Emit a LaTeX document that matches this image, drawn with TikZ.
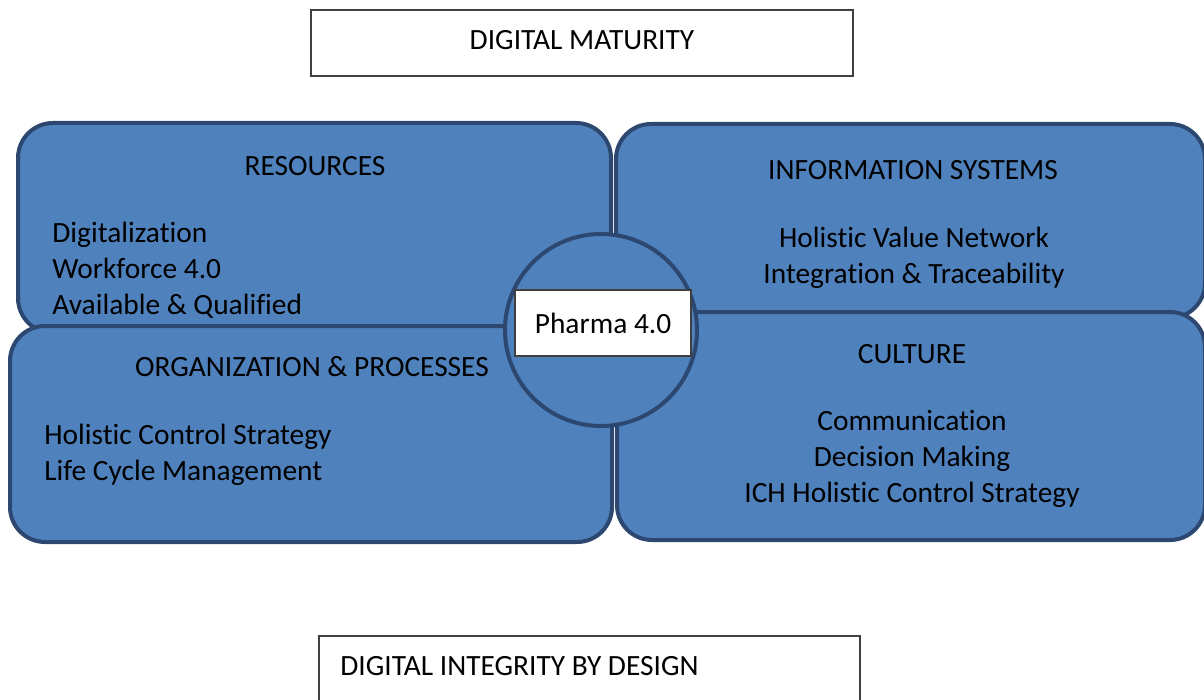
\documentclass[tikz,border=0pt]{standalone}
\usepackage{fontspec}
\setmainfont{Carlito}[Ligatures=NoCommon]
\definecolor{quadfill}{HTML}{4F81BD}
\definecolor{quadline}{HTML}{2C4770}
\definecolor{frameline}{HTML}{404040}
\begin{document}
\begin{tikzpicture}[x=0.5pt,y=-0.5pt,
  font=\fontsize{14.7pt}{18pt}\selectfont,
  quad/.style={draw=quadline,fill=quadfill,line width=2pt,rounded corners=17.5pt},
  frame/.style={draw=frameline,fill=white,line width=0.6pt},
  txt/.style={inner sep=0pt,text=black},
  list/.style={txt,align=left},
  clist/.style={txt,align=center}]
\useasboundingbox (0,0) rectangle (1204,700);

% heading box
\draw[frame] (311,10) rectangle (853,76);
\node[txt] (maturity) at (582,40) {DIGITAL MATURITY};

% four quadrants, drawn in overlap order
\draw[quad] (18,123) rectangle (611,333);
\draw[quad] (616,124) rectangle (1205,318);
\draw[quad] (10,326) rectangle (612,542);
\draw[quad] (617,312) rectangle (1205,540);

% resources
\node[txt] (res) at (315,166) {RESOURCES};
\node[list,anchor=west] (resitems) at (52,270) {Digitalization\\Workforce 4.0\\Available \& Qualified};

% information systems
\node[txt] (info) at (913,170) {INFORMATION SYSTEMS};
\node[clist] (infoitems) at (914,258) {Holistic Value Network\\Integration \& Traceability};

% organization & processes
\node[txt] (org) at (312,367) {ORGANIZATION \& PROCESSES};
\node[list,anchor=west] (orgitems) at (44,455) {Holistic Control Strategy\\Life Cycle Management};

% culture
\node[txt] (cult) at (912,354) {CULTURE};
\node[clist] (cultitems) at (912,459) {Communication\\Decision Making\\ICH Holistic Control Strategy};

% central hub
\node[circle,draw=quadline,fill=quadfill,line width=2pt,minimum size=192*0.5pt,inner sep=0pt] (hub) at (601,330) {};
\node[draw=frameline,fill=white,line width=0.6pt,minimum width=176*0.5pt,minimum height=66*0.5pt,inner sep=0pt] (pharma) at (603,323) {Pharma 4.0};

% bottom box
\draw[frame] (319,636) rectangle (860,730);
\node[txt,anchor=west] (integrity) at (340,666) {DIGITAL INTEGRITY BY DESIGN};
\end{tikzpicture}
\end{document}
